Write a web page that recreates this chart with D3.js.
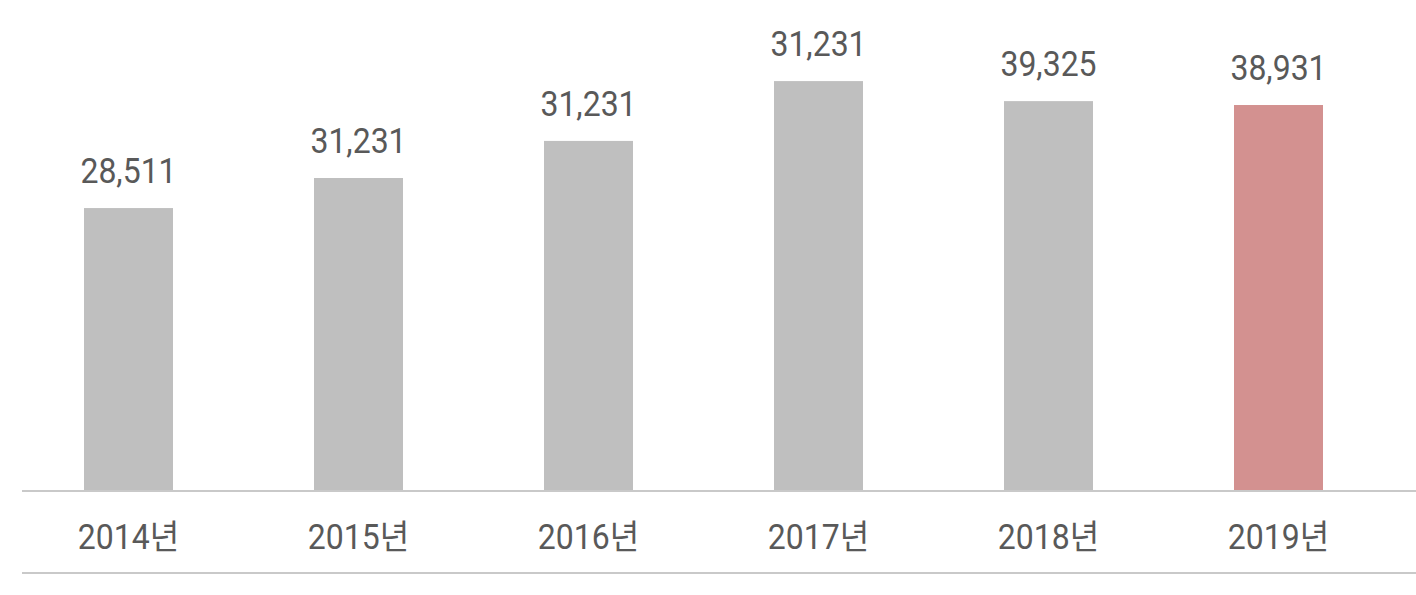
<!DOCTYPE html>
<html>
<head>
<meta charset="utf-8">
<script src="https://cdn.jsdelivr.net/npm/d3@7"></script>
<style>
  html, body { margin: 0; padding: 0; background: #ffffff; }
  svg { display: block; }
  text { font-family: Roboto, "Noto Sans CJK KR", sans-serif; }
</style>
</head>
<body>
<svg id="chart" width="1416" height="595"></svg>
<script>
// Data
const categories = ["2014년", "2015년", "2016년", "2017년", "2018년", "2019년"];
const values = [28511, 31550, 35300, 41350, 39325, 38931];
const valueLabels = ["28,511", "31,231", "31,231", "31,231", "39,325", "38,931"];
const highlight = ["2019년"];

const W = 1416, H = 595;
const FONT = 'Roboto, "Noto Sans CJK KR", sans-serif';
const FS = 32, STRETCH = 1.07;
const svg = d3.select("#chart");

const x = d3.scaleBand()
  .domain(categories)
  .range([13.5, 1393.5])
  .paddingInner(141 / 230)
  .paddingOuter(141 / 460);

const y = d3.scaleLinear()
  .domain([0, 45000])
  .range([490, 45]);

// bars
svg.append("g").selectAll("rect")
  .data(categories)
  .join("rect")
  .attr("x", d => x(d))
  .attr("width", x.bandwidth())
  .attr("y", (d, i) => y(values[i]))
  .attr("height", (d, i) => y(0) - y(values[i]))
  .attr("fill", d => highlight.includes(d) ? "#d39190" : "#bfbfbf");

// x axis
const xAxis = d3.axisBottom(x).tickSize(0).tickPadding(0);
const gx = svg.append("g")
  .attr("transform", `translate(0,${y(0)})`)
  .call(xAxis);
gx.select(".domain").remove();
gx.append("line")
  .attr("x1", 22).attr("x2", W)
  .attr("y1", 1).attr("y2", 1)
  .attr("stroke", "#c9c9c9").attr("stroke-width", 2);
gx.selectAll(".tick text")
  .attr("dy", null)
  .attr("y", 0)
  .attr("transform", `translate(0,59) scale(1,${STRETCH})`)
  .attr("font-size", FS)
  .attr("font-family", FONT)
  .attr("fill", "#595959");

// bottom rule
svg.append("line")
  .attr("x1", 22).attr("x2", W)
  .attr("y1", 573).attr("y2", 573)
  .attr("stroke", "#c9c9c9").attr("stroke-width", 2);

// value labels
svg.append("g").selectAll("text")
  .data(categories)
  .join("text")
  .attr("transform", (d, i) =>
    `translate(${x(d) + x.bandwidth() / 2},${y(values[i]) - 25}) scale(1,${STRETCH})`)
  .attr("text-anchor", "middle")
  .attr("font-size", FS)
  .attr("font-family", FONT)
  .attr("fill", "#595959")
  .text((d, i) => valueLabels[i]);
</script>
</body>
</html>
